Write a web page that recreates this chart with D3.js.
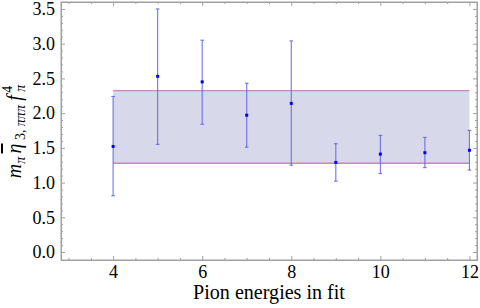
<!DOCTYPE html>
<html><head><meta charset="utf-8">
<script src="https://cdn.jsdelivr.net/npm/d3@7"></script>
<style>body{margin:0;background:#fff}svg{display:block}</style>
</head><body>
<svg id="c" width="480" height="308"></svg>
<script>
const energies = [4, 5, 6, 7, 8, 9, 10, 11, 12];
const values   = [1.52, 2.53, 2.45, 1.97, 2.14, 1.29, 1.41, 1.43, 1.465];
const upper    = [2.24, 3.50, 3.05, 2.43, 3.04, 1.56, 1.68, 1.65, 1.75];
const lower    = [0.81, 1.55, 1.84, 1.51, 1.25, 1.02, 1.13, 1.215, 1.18];
const bandRange = [4, 12];
const bandLow = 1.278, bandHigh = 2.324;
const xTicks = [4, 6, 8, 10, 12];
const yTicks = [0.0, 0.5, 1.0, 1.5, 2.0, 2.5, 3.0, 3.5];

const FONT = '"Liberation Serif"';
const svg = d3.select("#c");
const L = 61, R = 477, T = 2, B = 260;
const x = d3.scaleLinear().domain([2.83, 12.17]).range([L, R]);
const y = d3.scaleLinear().domain([-0.115, 3.6]).range([B, T]);
const frameCol = "#a0a0a0";

function fitSize(str, target, style) {
  const t = svg.append("text").style("font-family", FONT).style("font-size", "100px")
    .style("font-style", style || "normal").text(str);
  const w = t.node().getComputedTextLength();
  t.remove();
  return 100 * target / w;
}
const tickFs = fitSize("3.5", 22.5);
const xlabFs = fitSize("Pion energies in fit", 152);

// band
svg.append("rect")
  .attr("x", x(bandRange[0])).attr("width", x(bandRange[1]) - x(bandRange[0]))
  .attr("y", y(bandHigh)).attr("height", y(bandLow) - y(bandHigh))
  .attr("fill", "#d8d8eb");
[bandLow, bandHigh].forEach(v => {
  svg.append("line")
    .attr("x1", x(bandRange[0])).attr("x2", x(bandRange[1]))
    .attr("y1", y(v)).attr("y2", y(v))
    .attr("stroke", "#c08ac4").attr("stroke-width", 1.4);
});

const xMinor = d3.range(3, 12.01, 0.5).filter(v => !xTicks.includes(v));
const yMinor = d3.range(0, 3.6, 0.1).map(v => +v.toFixed(2)).filter(v => !yTicks.some(t => Math.abs(t - v) < 1e-6));

function axis(gen, tr, labels) {
  const g = svg.append("g").attr("transform", tr).call(gen);
  g.select(".domain").attr("stroke", frameCol);
  g.selectAll(".tick line").attr("stroke", frameCol);
  g.selectAll("text").style("font-family", FONT).style("font-size", tickFs + "px").attr("fill", "#000");
  if (!labels) g.selectAll("text").remove();
  return g;
}
axis(d3.axisBottom(x).tickValues(xTicks).tickSizeInner(-4).tickSizeOuter(0).tickPadding(5).tickFormat(d3.format("d")), `translate(0,${B})`, true);
axis(d3.axisBottom(x).tickValues(xMinor).tickSizeInner(-2).tickSizeOuter(0), `translate(0,${B})`, false);
axis(d3.axisTop(x).tickValues(xTicks).tickSizeInner(-4).tickSizeOuter(0), `translate(0,${T})`, false);
axis(d3.axisTop(x).tickValues(xMinor).tickSizeInner(-2).tickSizeOuter(0), `translate(0,${T})`, false);
axis(d3.axisLeft(y).tickValues(yTicks).tickSizeInner(-4).tickSizeOuter(0).tickPadding(6).tickFormat(d3.format(".1f")), `translate(${L},0)`, true);
axis(d3.axisLeft(y).tickValues(yMinor).tickSizeInner(-2).tickSizeOuter(0), `translate(${L},0)`, false);
axis(d3.axisRight(y).tickValues(yTicks).tickSizeInner(-4).tickSizeOuter(0), `translate(${R},0)`, false);
axis(d3.axisRight(y).tickValues(yMinor).tickSizeInner(-2).tickSizeOuter(0), `translate(${R},0)`, false);
svg.append("rect").attr("x", L).attr("y", T).attr("width", R - L).attr("height", B - T)
  .attr("fill", "none").attr("stroke", frameCol);

// error bars
const data = energies.map((e, i) => ({e, v: values[i], hi: upper[i], lo: lower[i]}));
const eb = svg.append("g").attr("stroke", "#5a5af0").attr("stroke-width", 1.1).attr("stroke-opacity", 0.85);
data.forEach(d => {
  eb.append("line").attr("x1", x(d.e)).attr("x2", x(d.e)).attr("y1", y(d.hi)).attr("y2", y(d.lo));
  [d.hi, d.lo].forEach(v => eb.append("line")
    .attr("x1", x(d.e) - 1.8).attr("x2", x(d.e) + 1.8).attr("y1", y(v)).attr("y2", y(v)));
});
svg.append("g").selectAll("rect").data(data).join("rect")
  .attr("x", d => x(d.e) - 1.5).attr("y", d => y(d.v) - 1.5)
  .attr("width", 3).attr("height", 3).attr("fill", "#0000ff");

// x label
svg.append("text").attr("x", 269).attr("y", 299).attr("text-anchor", "middle")
  .style("font-family", FONT).style("font-size", xlabFs + "px").text("Pion energies in fit");

// y label: fixed font sizes, spacing spread to the reference length
const ylg = svg.append("g");
const yl = ylg.append("text").attr("text-anchor", "start")
  .style("font-family", FONT).style("font-size", "20px").style("font-style", "italic");
const parts = [
  {t: "m", fs: 20, dy: 0},
  {t: "π", fs: 14, dy: 4},
  {t: "η", fs: 20, dy: -4, over: true},
  {t: "3,", fs: 14, dy: 4, up: true},
  {t: "πππ", fs: 14, dy: 0},
  {t: "f", fs: 20, dy: -4},
  {t: "π", fs: 14, dy: 4},
  {t: "4", fs: 14, dy: -13, up: true, back: true}
];
const spans = parts.map(p => {
  const ts = yl.append("tspan").style("font-size", p.fs + "px").attr("dy", p.dy).text(p.t);
  if (p.up) ts.style("font-style", "normal");
  if (p.over) ts.style("text-decoration", "overline");
  return ts;
});
spans[7].attr("dx", -8);
let bb = yl.node().getBBox();
const extra = Math.max(0, (97 - bb.width) / 6);
[2, 3, 4, 5, 6].forEach(i => spans[i].attr("dx", extra + (i === 5 ? 1 : 0)));
bb = yl.node().getBBox();
ylg.attr("transform", `translate(21,${131 + bb.width / 2}) rotate(-90) translate(${-bb.x},0)`);
</script>
</body></html>
